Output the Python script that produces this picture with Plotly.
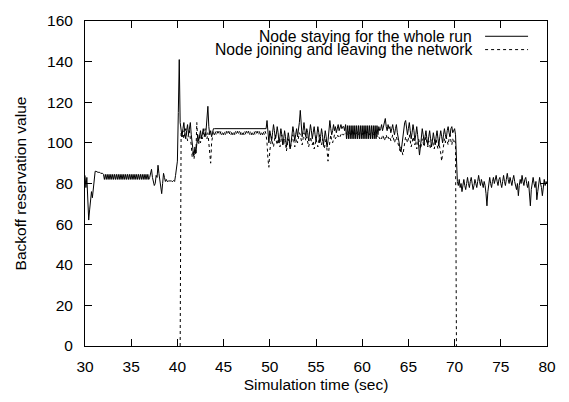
import plotly.graph_objects as go

# ---- data: sampled every 0.1 s ----
solid_start = 30.0
solid_vals = [
    84, 78, 83, 70, 62, 67, 72, 76, 73, 78,          # 30
    80, 86, 86, 85.5, 85.5, 85.5, 85.5, 85, 85, 85,  # 31
    84.5, 82, 84.5, 82, 84.5, 82, 84.5, 82, 84.5, 82,  # 32
    84.5, 82, 84.5, 82, 84.5, 82, 84.5, 82, 84.5, 82,  # 33
    84.5, 82, 84.5, 82, 84.5, 82, 84.5, 82, 84.5, 82,  # 34
    84.5, 82, 84.5, 82, 84.5, 82, 84.5, 82, 84.5, 82,  # 35
    84.5, 82, 84.5, 82, 84.5, 82, 84.5, 82, 84.5, 82,  # 36
    83, 85, 87, 83, 80, 79, 80, 84, 83, 89,          # 37
    85, 81, 80, 75, 80, 85, 83, 81, 82, 81,          # 38
    81, 81.5, 81, 81.5, 81, 81, 81.5, 81, 84, 88,    # 39
    91, 115, 141, 110, 106, 103, 107, 110, 105, 102,  # 40
    106, 109, 104, 107, 110, 104, 99, 96, 94, 98,    # 41
    95, 100, 104, 101, 103, 106, 102, 104, 107, 104,  # 42
    103, 106, 112, 118, 108, 104, 106, 103, 105, 107,  # 43
    107, 107, 107, 107, 107, 107, 107, 107, 107, 107,  # 44
    107, 107, 107, 107, 107, 107, 107, 107, 107, 107,  # 45
    107, 107, 107, 107, 107, 107, 107, 107, 107, 107,  # 46
    107, 107, 107, 107, 107, 107, 107, 107, 107, 107,  # 47
    107, 107, 107, 107, 107, 107, 107, 107, 107, 107,  # 48
    107, 107, 107, 107, 107, 107, 107, 111, 104, 100,  # 49
    106, 104, 101, 105, 109, 106, 102, 104, 108, 105,  # 50
    100, 103, 107, 104, 99, 102, 106, 103, 98, 101,  # 51
    105, 102, 97, 100, 104, 108, 105, 101, 104, 107,  # 52
    103, 106, 110, 116, 107, 103, 106, 110, 106, 103,  # 53
    107, 105, 101, 104, 109, 106, 102, 105, 108, 104,  # 54
    101, 104, 108, 105, 100, 103, 107, 104, 99, 102,  # 55
    106, 103, 98, 101, 105, 111, 107, 104, 106, 109,  # 56
    106, 108, 105, 107, 109, 106, 108, 109, 107, 108,  # 57
    108, 106, 109, 102, 108.5, 102, 108.5, 102, 108.5, 102,  # 58
    108.5, 102, 108.5, 102, 108.5, 102, 108.5, 102, 108.5, 102,  # 59
    108.5, 102, 108.5, 102, 108.5, 102, 108.5, 102, 108.5, 102,  # 60
    108.5, 102, 108.5, 102, 108.5, 102, 108.5, 104, 108, 106,  # 61
    107, 109, 106, 108, 110, 112, 108, 106, 109, 107,  # 62
    108, 105, 107, 109, 106, 104, 107, 109, 105, 103,  # 63
    100, 97, 95.5, 99, 104, 107, 110, 111, 107, 104,  # 64
    107, 110, 106, 102, 105, 109, 106, 101, 104, 108,  # 65
    104, 100, 94, 98, 103, 107, 104, 100, 103, 106,  # 66
    102, 99, 103, 106, 102, 98, 101, 105, 102, 99,   # 67
    103, 106, 102, 99, 103, 106, 103, 100, 104, 107,  # 68
    104, 102, 106, 108, 105, 103, 107, 108, 105, 106,  # 69
    107, 104, 86, 81, 79, 82, 78, 80, 76, 79,        # 70
    82, 79, 77, 80, 83, 80, 78, 81, 83, 80,          # 71
    77, 79, 82, 80, 78, 81, 84, 81, 79, 82,          # 72
    80, 78, 81, 79, 75, 69, 76, 80, 83, 80,          # 73
    78, 81, 83, 80, 82, 84, 81, 79, 82, 83,          # 74
    80, 78, 81, 84, 81, 79, 82, 85, 82, 80,          # 75
    83, 81, 79, 82, 84, 81, 79, 77, 80, 74,          # 76
    79, 82, 80, 84, 81, 79, 82, 83, 80, 78,          # 77
    81, 76, 69, 77, 81, 83, 80, 78, 81, 72,          # 78
    76, 80, 83, 80, 78, 74, 79, 82, 79, 81,          # 79
    80,                                              # 80
]

dashed_start = 40.3
dashed_vals = [
    0, 105, 103, 106, 102, 104, 107,                 # 40.3-40.9
    104, 101, 104, 106, 102, 99, 93, 96, 92, 97,     # 41
    94, 110, 101, 99, 103, 100, 104, 102, 105, 103,  # 42
    107, 104, 102, 105, 100, 92, 90, 100, 104, 106,  # 43
    104, 105.7, 104, 105.7, 104, 105.7, 104, 105.7, 104, 105.7,  # 44
    104, 105.7, 104, 105.7, 104, 105.7, 104, 105.7, 104, 105.7,  # 45
    104, 105.7, 104, 105.7, 104, 105.7, 104, 105.7, 104, 105.7,  # 46
    104, 105.7, 104, 105.7, 104, 105.7, 104, 105.7, 104, 105.7,  # 47
    104, 105.7, 104, 105.7, 104, 105.7, 104, 105.7, 104, 105.7,  # 48
    104, 105.7, 104, 105.7, 104, 105.7, 104, 100, 92, 88,  # 49
    96, 100, 103, 100, 98, 101, 104, 101, 99, 102,   # 50
    100, 98, 101, 104, 101, 99, 102, 100, 96, 99,    # 51
    102, 100, 97, 99, 102, 104, 101, 98, 100, 102,   # 52
    100, 103, 105, 104, 101, 99, 102, 105, 103, 101,  # 53
    103, 101, 98, 100, 103, 101, 99, 101, 97, 99,    # 54
    102, 100, 98, 101, 104, 101, 99, 102, 100, 97,   # 55
    100, 102, 96, 91, 97, 102, 104, 101, 100, 102,   # 56
    104, 102, 103, 104, 103, 104, 103, 104, 105, 104,  # 57
    104, 105, 104.5, 105, 104, 105.5, 104.5, 105, 104, 105,  # 58
    104.5, 105.5, 104, 105, 104.5, 105.5, 104, 105, 104.5, 105,  # 59
    104, 105.5, 104.5, 105, 104, 105.5, 104.5, 105, 104, 105,  # 60
    104.5, 105, 104, 105.5, 104, 104.5, 103, 104, 103, 102,  # 61
    103, 102, 104, 103, 101, 103, 104, 102, 103, 102,  # 62
    103, 101, 102, 104, 102, 100, 102, 103, 101, 99,  # 63
    97, 96, 98, 95, 94, 97, 101, 103, 102, 100,      # 64
    102, 104, 101, 98, 100, 103, 101, 99, 101, 97,   # 65
    99, 102, 100, 97, 99, 102, 100, 98, 101, 103,    # 66
    100, 98, 101, 99, 97, 100, 102, 99, 97, 100,     # 67
    102, 99, 97, 100, 98, 95, 91, 96, 100, 102,      # 68
    100, 103, 101, 99, 102, 104, 101, 99, 102, 100,  # 69
    101, 100, 0,                                     # 70.0-70.2
]

solid_t = [round(solid_start + 0.1 * i, 1) for i in range(len(solid_vals))]
dashed_t = [round(dashed_start + 0.1 * i, 1) for i in range(len(dashed_vals))]

series_names = ["Node staying for the whole run", "Node joining and leaving the network"]
x_ticks = [30, 35, 40, 45, 50, 55, 60, 65, 70, 75, 80]
y_ticks = [0, 20, 40, 60, 80, 100, 120, 140, 160]

FONT = "Liberation Sans, Arial, Helvetica, sans-serif"
FS = 15.5

fig = go.Figure()
fig.add_trace(go.Scatter(x=solid_t, y=solid_vals, mode="lines", name=series_names[0],
                         line=dict(color="black", width=1), showlegend=False, hoverinfo="skip"))
fig.add_trace(go.Scatter(x=dashed_t, y=dashed_vals, mode="lines", name=series_names[1],
                         line=dict(color="black", width=1, dash="3px,3px"), showlegend=False,
                         hoverinfo="skip"))

axis_common = dict(showline=True, linecolor="black", linewidth=1, mirror="ticks",
                   ticks="inside", ticklen=7, tickcolor="black", tickwidth=1,
                   showgrid=False, zeroline=False,
                   tickfont=dict(family=FONT, size=FS, color="black"))

fig.update_xaxes(range=[30, 80], tickvals=x_ticks, ticklabelstandoff=6,
                 title=dict(text="Simulation time (sec)", font=dict(family=FONT, size=FS, color="black"), standoff=5),
                 **axis_common)
fig.update_yaxes(range=[0, 160], tickvals=y_ticks, ticklabelstandoff=8,
                 title=dict(text="Backoff reservation value", font=dict(family=FONT, size=FS, color="black"), standoff=16),
                 **axis_common)

# gnuplot-style key: text right-aligned, sample line to the right
key_rows = [(0.953, "solid"), (0.912, "3px,3px")]
for name, (yy, dash) in zip(series_names, key_rows):
    fig.add_annotation(x=0.840, y=yy, xref="paper", yref="paper", text=name, showarrow=False,
                       xanchor="right", yanchor="middle", borderpad=0,
                       font=dict(family=FONT, size=15.7, color="black"))
    fig.add_shape(type="line", xref="paper", yref="paper", x0=0.866, x1=0.959, y0=yy, y1=yy,
                  line=dict(color="black", width=1, dash=dash))

fig.update_layout(width=569, height=402, margin=dict(l=85, r=22, t=13, b=49),
                  plot_bgcolor="white", paper_bgcolor="white", hovermode=False,
                  font=dict(family=FONT, size=FS, color="black"))

fig.write_html("out.html", config={"displayModeBar": False, "staticPlot": True},
               post_script="document.body.style.margin='0';document.body.style.overflow='hidden';")
